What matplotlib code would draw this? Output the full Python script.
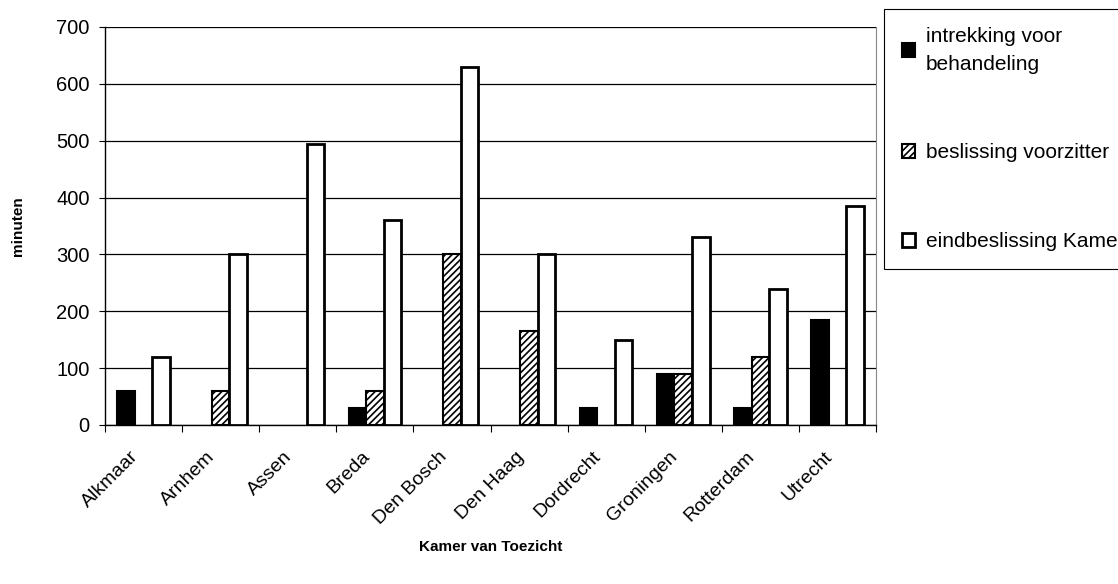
import matplotlib
matplotlib.use("Agg")
import matplotlib.pyplot as plt
import matplotlib.transforms as mtransforms
import numpy as np

plt.rcParams['font.family'] = ['Liberation Sans', 'DejaVu Sans']
plt.rcParams['hatch.linewidth'] = 1.2

kamers = ['Alkmaar', 'Arnhem', 'Assen', 'Breda', 'Den Bosch', 'Den Haag',
          'Dordrecht', 'Groningen', 'Rotterdam', 'Utrecht']
intrekking = [60, 0, 0, 30, 0, 0, 30, 90, 30, 185]
voorzitter = [0, 60, 0, 60, 300, 165, 0, 90, 120, 0]
eindbeslissing = [120, 300, 495, 360, 630, 300, 150, 330, 240, 385]
labels = ['intrekking voor\nbehandeling', 'beslissing voorzitter', 'eindbeslissing Kamer']


def no_zero(v):
    # empty categories show no bar at all
    v = np.array(v, dtype=float)
    v[v == 0] = np.nan
    return v


fig = plt.figure(figsize=(11.18, 5.84), dpi=100)
ax = fig.add_axes([105/1118, 1-425/584, 771/1118, 398/584])

x = np.arange(len(kamers))
w = 0.227
ax.bar(x - w, no_zero(intrekking), w, color='black', edgecolor='black', linewidth=1.5, label=labels[0], zorder=3)
ax.bar(x, no_zero(voorzitter), w, color='white', edgecolor='black', hatch='/////', linewidth=1.5, label=labels[1], zorder=3)
ax.bar(x + w, no_zero(eindbeslissing), w, color='white', edgecolor='black', linewidth=2, label=labels[2], zorder=3)

ax.set_xlim(-0.5, len(kamers) - 0.5)
ax.set_ylim(0, 700)
ax.set_yticks(range(0, 701, 100))
ax.yaxis.grid(True, color='black', linewidth=0.9, zorder=0)
ax.set_axisbelow(True)

ax.set_xticks(np.arange(-0.5, len(kamers), 1))
ax.set_xticklabels([])
ax.set_xticks(x, minor=True)
ax.set_xticklabels(kamers, minor=True, rotation=45, ha='right', va='center',
                   rotation_mode='anchor', fontsize=14)
ax.tick_params(axis='x', which='minor', length=0, pad=21)
ax.tick_params(axis='x', which='major', length=5, direction='out', color='black')
ax.tick_params(axis='y', length=4.5, direction='out', labelsize=14.5, pad=6.5)

# nudge the rotated labels a little to the left, as in the original
shift = mtransforms.ScaledTranslation(-8/100, 0, fig.dpi_scale_trans)
for lab in ax.get_xticklabels(minor=True):
    lab.set_transform(lab.get_transform() + shift)

ax.spines['top'].set_visible(False)
ax.spines['right'].set_color('#888888')
ax.spines['left'].set_linewidth(1.0)
ax.spines['bottom'].set_linewidth(1.0)

ax.set_ylabel('minuten', fontweight='bold', fontsize=11)
ax.yaxis.set_label_coords(-0.104, 0.5)
ax.set_xlabel('Kamer van Toezicht', fontweight='bold', fontsize=11)
ax.xaxis.set_label_coords(0.5, -0.29)

leg = fig.legend(loc='upper left', bbox_to_anchor=(884/1118, 1-9/584), fontsize=15,
                 handlelength=0.65, handleheight=0.65, handletextpad=0.5,
                 labelspacing=3.35, borderpad=0.85, fancybox=False, edgecolor='black',
                 framealpha=1, borderaxespad=0)
leg.get_frame().set_linewidth(0.8)
for t in leg.get_texts():
    t.set_linespacing(1.6)

plt.savefig('out.png', dpi=100)
